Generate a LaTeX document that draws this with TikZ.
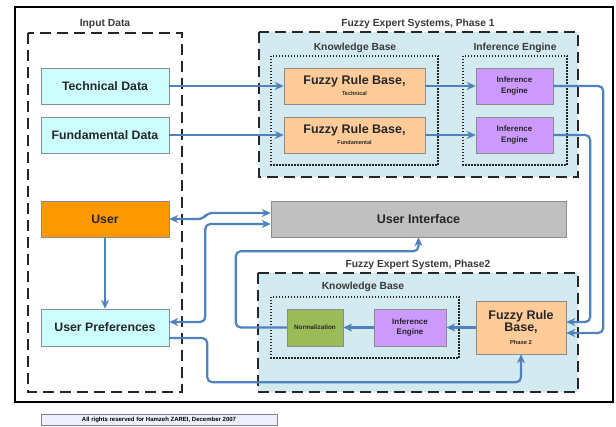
\documentclass[tikz,border=0pt]{standalone}
\usepackage{fontspec}
\setmainfont{Liberation Sans}
\usetikzlibrary{arrows.meta,calc}
\definecolor{arrblue}{HTML}{4F81BD}
\definecolor{pale}{HTML}{CCFFFF}
\definecolor{phasebg}{HTML}{D3EAF0}
\definecolor{peach}{HTML}{FFCC99}
\definecolor{lilac}{HTML}{CC99FF}
\definecolor{usr}{HTML}{FF9900}
\definecolor{uigray}{HTML}{C0C0C0}
\definecolor{normgreen}{HTML}{9BBB59}
\definecolor{lbl}{HTML}{3A3A3A}
\definecolor{footbg}{HTML}{EEF0FF}
\begin{document}
\begin{tikzpicture}[x=1pt,y=-1pt,
  font=\bfseries,
  box/.style={draw=black!45, line width=0.5pt, inner sep=0pt, align=center, text=black!85},
  bigtxt/.style={font=\fontsize{12.3}{14}\selectfont\bfseries},
  ietxt/.style={font=\fontsize{8}{10.5}\selectfont\bfseries},
  arr/.style={draw=arrblue, line width=2.2pt, rounded corners=5pt, -{Stealth[length=9pt,width=8pt]}},
  arrtwo/.style={draw=arrblue, line width=2.2pt, rounded corners=5pt, {Stealth[length=9pt,width=8pt]}-{Stealth[length=9pt,width=8pt]}},
  dashbox/.style={draw=black!85, line width=1.9pt, dash pattern=on 11pt off 6pt},
  dotbox/.style={draw=black!85, line width=1.9pt, dash pattern=on 1.5pt off 1.5pt},
  lab/.style={text=lbl, inner sep=0pt, font=\fontsize{10.3}{12}\selectfont\bfseries}
]
\useasboundingbox (0,0) rectangle (616,427);
% outer frame
\draw[line width=2pt] (15,7) rectangle (613,402);

% containers
\draw[dashbox] (28,33) rectangle (182,392);
\node[lab] (lInput) at (105,24) {Input Data};

\filldraw[dashbox, fill=phasebg] (259,32) rectangle (578,177);
\node[lab] (lPh1) at (418,24) {Fuzzy Expert Systems, Phase 1};
\draw[dotbox] (271,56) rectangle (438,165);
\node[lab] (lKB1) at (355,48) {Knowledge Base};
\draw[dotbox] (463,56) rectangle (567,165);
\node[lab] (lIE1) at (515,48) {Inference Engine};

\filldraw[dashbox, fill=phasebg] (258,273) rectangle (578,392);
\node[lab] (lPh2) at (418,265) {Fuzzy Expert System, Phase2};
\draw[dotbox] (271,297) rectangle (459,358);
\node[lab] (lKB2) at (363,287) {Knowledge Base};

% nodes
\node[box, fill=pale, minimum width=128pt, minimum height=36pt, bigtxt] (tech) at (105,86) {Technical Data};
\node[box, fill=pale, minimum width=128pt, minimum height=36pt, bigtxt] (fund) at (105,135) {Fundamental Data};
\node[box, fill=usr, minimum width=128pt, minimum height=36pt, bigtxt] (user) at (105,219) {User};
\node[box, fill=pale, minimum width=128pt, minimum height=37pt, bigtxt] (upref) at (105,327.5) {User Preferences};

\node[box, fill=peach, minimum width=141pt, minimum height=36pt] (frbT) at (354.5,86)
  {{\fontsize{12.5}{14}\selectfont Fuzzy Rule Base,}\\[-1pt]{\fontsize{5.5}{6}\selectfont Technical}};
\node[box, fill=peach, minimum width=141pt, minimum height=36pt] (frbF) at (354.5,135)
  {{\fontsize{12.5}{14}\selectfont Fuzzy Rule Base,}\\[-1pt]{\fontsize{5.5}{6}\selectfont Fundamental}};
\node[box, fill=lilac, minimum width=77pt, minimum height=36pt, ietxt] (ieT) at (514.5,86) {Inference\\Engine};
\node[box, fill=lilac, minimum width=77pt, minimum height=36pt, ietxt] (ieF) at (514.5,135) {Inference\\Engine};

\node[box, fill=uigray, minimum width=295pt, minimum height=36pt, font=\fontsize{12.5}{14}\selectfont\bfseries] (ui) at (418.5,219) {User Interface};

\node[box, fill=peach, minimum width=90pt, minimum height=53pt] (frb2) at (521,327.5)
  {{\fontsize{12.5}{14}\selectfont Fuzzy Rule}\\{\fontsize{12.5}{14}\selectfont Base,}\\[1pt]{\fontsize{5.8}{7}\selectfont Phase 2}};
\node[box, fill=lilac, minimum width=72pt, minimum height=37pt, ietxt] (ie2) at (410,327.5) {Inference\\Engine};
\node[box, fill=normgreen, minimum width=56pt, minimum height=37pt, font=\fontsize{6.3}{7}\selectfont\bfseries] (norm) at (315,327.5) {Normalization};

% connectors
\draw[arr] (tech.east) -- (frbT.west);
\draw[arr] (fund.east) -- (frbF.west);
\draw[arr] (frbT.east) -- (ieT.west);
\draw[arr] (frbF.east) -- (ieF.west);
\draw[arr] (ieT.east) -- ++(50,0) |- ($(frb2.east)+(0,5.5)$);
\draw[arr] (ieF.east) -- ++(37,0) |- ($(frb2.east)+(0,-5.5)$);
\draw[arr] (user.south) -- (upref.north);
\draw[arrtwo] (user.east) -- ++(34,0) -- ++(4,-6) -- ($(ui.west)+(0,-6)$);
\draw[arrtwo] ($(upref.east)+(0,-5.5)$) -- ++(36,0) |- ($(ui.west)+(0,5)$);
\draw[arr] ($(upref.east)+(0,10.5)$) -- ++(38,0) |- ($(frb2.south)+(0,28)$) -- (frb2.south);
\draw[arr] (frb2.west) -- (ie2.east);
\draw[arr] (ie2.west) -- (norm.east);
\draw[arr] (norm.west) -- ++(-51,0) |- ($(ui.south)+(0,14)$) -- (ui.south);

% footer
\node[draw=black!50, line width=0.5pt, fill=footbg, minimum width=236pt, minimum height=11pt, inner sep=0pt,
  font=\fontsize{6}{7}\selectfont\bfseries] (foot) at (159,420) {All rights reserved for Hamzeh ZAREI, December 2007};
\end{tikzpicture}
\end{document}
